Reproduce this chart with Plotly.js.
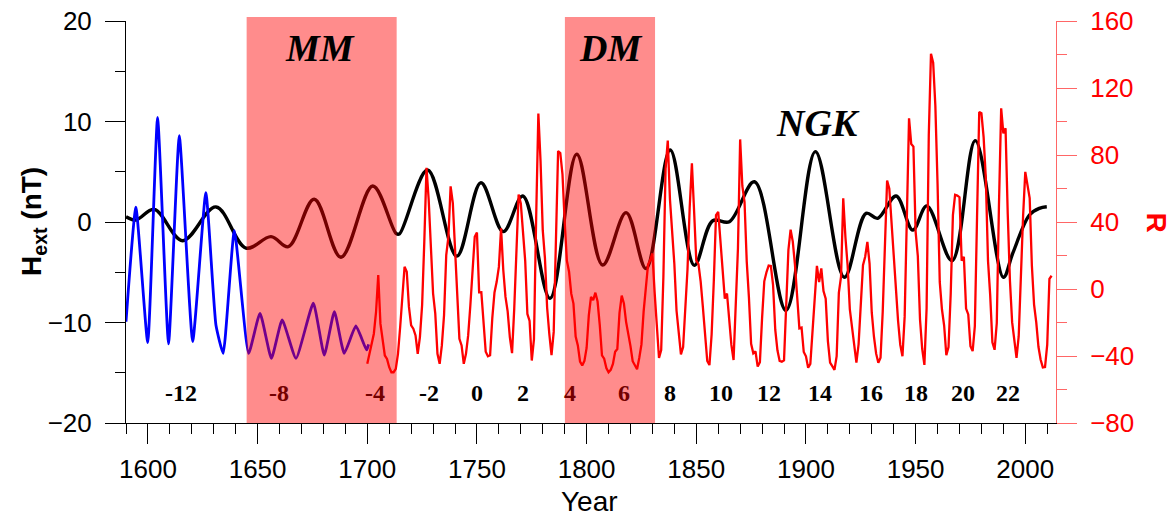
<!DOCTYPE html>
<html><head><meta charset="utf-8">
<script src="https://cdn.plot.ly/plotly-3.0.1.min.js"></script>
<style>html,body{margin:0;padding:0;background:#fff}#chart{width:1175px;height:518px}</style>
</head><body><div id="chart"></div>
<script>
// Black curve: H_ext (nT), left axis
const hextYears = [1590.0, 1594.5, 1602.9, 1615.8, 1631.0, 1644.7, 1656.1, 1664.0, 1675.8, 1688.0, 1702.5, 1713.1, 1714.6, 1727.5, 1740.8, 1751.8, 1762.0, 1770.9, 1783.3, 1795.5, 1807.3, 1818.0, 1827.1, 1838.1, 1849.1, 1857.5, 1865.1, 1876.5, 1890.9, 1904.3, 1917.5, 1927.4, 1932.7, 1941.1, 1948.7, 1955.1, 1966.6, 1977.2, 1990.0, 1994.3, 2001.9, 2006.4, 2009.8];
const hextValues = [0.53, 0.2, 1.26, -1.86, 1.5, -2.6, -1.46, -2.46, 2.26, -3.5, 3.58, -1.13, -1.2, 5.17, -3.4, 3.9, -0.96, 2.59, -7.6, 6.74, -4.28, 0.93, -4.64, 7.16, -4.31, 0.13, 0.03, 4.0, -8.8, 7.0, -5.5, 0.86, 0.37, 2.59, -0.8, 1.6, -3.85, 8.1, -5.5, -3.1, 0.7, 1.36, 1.52];

// Blue curve: reconstructed R before 1700, right axis
const blueYears = [1590.0, 1594.5, 1599.9, 1604.4, 1609.4, 1614.3, 1620.4, 1626.4, 1631.0, 1634.3, 1639.4, 1645.9, 1651.1, 1656.3, 1661.2, 1667.5, 1675.4, 1680.4, 1685.0, 1689.5, 1694.8, 1699.7, 1700.6];
const blueValues = [-19.5, 48.8, -32, 102.5, -32.8, 91.5, -31.4, 57.5, -21.5, -38.4, 34.8, -38.4, -14.5, -41.4, -18.5, -41.4, -8.5, -39.4, -13.5, -38.4, -22.1, -36.4, -33];

// Red curve: annual R (anomaly), 1700 onward, right axis
const redStartYear = 1700;
const redValues = [
 -44.7, -38.7, -33.7, -26.7, -13.7, 8.3, -20.7, -29.7, -39.7, -41.7,
 -46.7, -49.7, -49.7, -47.7, -38.7, -22.7, -2.7, 13.3, 10.3, -10.7,
 -21.7, -23.7, -27.7, -38.7, -28.7, -9.7, 28.3, 72.3, 53.3, 23.3,
 -2.7, -14.7, -38.7, -44.7, -33.7, -15.7, 20.3, 31.3, 61.3, 51.3,
 23.3, -9.7, -29.7, -33.7, -44.7, -38.7, -27.7, -9.7, 10.3, 31.2,
 33.7, -2.0, -1.9, -19.0, -37.5, -40.1, -39.5, -17.3, -2.1, 4.3,
 13.2, 36.2, 11.5, -4.6, -13.3, -28.8, -38.3, -11.9, 20.1, 56.4,
 51.1, 31.9, 16.8, -14.9, -19.1, -42.7, -29.9, 42.8, 104.7, 76.2,
 35.1, 18.4, -11.2, -26.9, -39.5, -25.6, 33.2, 82.3, 81.2, 68.4,
 40.2, 16.9, 10.3, -2.8, -8.7, -28.4, -33.7, -43.3, -45.6, -42.9,
 -35.2, -15.7, -4.7, -6.6, -2.2, -7.5, -21.6, -39.6, -41.6, -47.2,
 -49.7, -48.3, -44.7, -37.5, -35.8, -14.3, -3.9, -8.6, -19.6, -25.8,
 -34.1, -43.1, -45.7, -47.9, -41.2, -33.1, -13.4, -0.1, 14.5, 17.3,
 21.2, -1.9, -22.2, -41.2, -36.5, 7.2, 71.8, 88.6, 53.5, 36.0,
 14.9, -13.0, -25.5, -39.0, -34.7, -9.6, 11.8, 48.8, 75.0, 46.6,
 16.9, 14.8, 4.4, -10.7, -29.1, -43.0, -45.4, -27.0, 5.1, 44.1,
 46.1, 27.5, 9.4, -5.7, -2.7, -19.2, -33.4, -42.4, -12.1, 24.3,
 89.3, 61.5, 51.9, 16.5, -5.0, -32.7, -38.4, -37.3, -46.3, -43.7,
 -17.4, 4.6, 10.0, 14.0, 13.8, 2.5, -24.3, -36.6, -42.9, -43.4,
 -42.6, -14.1, 23.3, 35.4, 28.3, 14.3, -7.9, -23.5, -23.0, -37.6,
 -40.2, -47.0, -44.7, -25.3, -7.7, 13.8, 4.1, 12.3, -1.2, -5.8,
 -31.1, -44.0, -46.1, -48.3, -40.1, -2.3, 7.4, 54.2, 30.9, 13.9,
 -12.1, -23.6, -35.5, -43.9, -33.0, -5.4, 14.2, 19.3, 28.1, 15.2,
 -14.0, -28.5, -38.6, -44.0, -41.0, -13.6, 30.0, 64.7, 59.9, 39.1,
 18.1, -2.2, -19.1, -33.4, -40.1, -16.5, 42.9, 101.9, 86.6, 85.0,
 34.2, 19.7, -18.2, -35.8, -45.3, -11.7, 92.0, 140.5, 135.1, 109.3,
 62.6, 4.2, -12.1, -21.8, -39.5, -34.6, -2.7, 44.1, 56.2, 55.8,
 54.8, 16.9, 19.2, -11.7, -15.2, -34.2, -37.1, -22.2, 42.8, 105.7,
 104.9, 90.7, 66.2, 16.9, -3.8, -31.8, -36.3, -20.3, 50.5, 107.9,
 92.9, 96.0, 44.6, 4.9, -19.8, -32.2, -41.1, -28.2, 14.6, 43.6,
 69.9, 61.3, 54.3, 14.0, -9.3, -19.9, -34.5, -42.2, -46.8, -46.6,
 -33.2, 6.0, 7.9
];
const redYears = redValues.map((_, i) => redStartYear + i);

// Cycle numbers
const cycleLabels = ['-12', '-8', '-4', '-2', '0', '2', '4', '6', '8', '10', '12', '14', '16', '18', '20', '22'];
const cycleYears = [1615.3, 1659.7, 1703.5, 1728.1, 1750.0, 1771.0, 1792.4, 1817.1, 1838.1, 1861.3, 1883.1, 1906.4, 1929.6, 1950.2, 1971.6, 1992.2];
const cycleInShade = [false, true, true, false, false, false, true, true, false, false, false, false, false, false, false, false];
const cycleLevel = -17.05;

// Shaded minima
const shadeStart = [1645.0, 1790.1];
const shadeEnd = [1713.4, 1831.2];

// Period labels
const periodLabels = ['MM', 'DM', 'NGK'];
const periodYears = [1678.4, 1810.7, 1905.3];
const periodLevels = [17.36, 17.36, 9.9];

const serif = 'Liberation Serif, Times New Roman, serif';
const sans = 'Arial, Liberation Sans, sans-serif';

const traces = [
  {x: hextYears, y: hextValues, type: 'scatter', mode: 'lines', yaxis: 'y',
   line: {color: '#000000', width: 3.4, shape: 'spline', smoothing: 1}, hoverinfo: 'skip'},
  {x: blueYears, y: blueValues, type: 'scatter', mode: 'lines', yaxis: 'y2',
   line: {color: '#0000ff', width: 2.8, shape: 'spline', smoothing: 0.45}, hoverinfo: 'skip'},
  {x: redYears, y: redValues, type: 'scatter', mode: 'lines', yaxis: 'y2',
   line: {color: '#ff0000', width: 2.3}, hoverinfo: 'skip'}
];

const shapes = shadeStart.map((s, i) => ({
  type: 'rect', xref: 'x', yref: 'paper', x0: s, x1: shadeEnd[i], y0: 0, y1: 1.01,
  fillcolor: 'rgba(255,0,0,0.45)', line: {width: 0}, layer: 'above'
}));

const annotations = [];
cycleLabels.forEach((t, i) => annotations.push({
  x: cycleYears[i], y: cycleLevel, xref: 'x', yref: 'y', text: '<b>' + t + '</b>', showarrow: false,
  xanchor: 'center', yanchor: 'middle',
  font: {family: serif, size: 24, color: cycleInShade[i] ? '#730000' : '#000000'}
}));
periodLabels.forEach((t, i) => annotations.push({
  x: periodYears[i], y: periodLevels[i], xref: 'x', yref: 'y', text: '<b><i>' + t + '</i></b>', showarrow: false,
  xanchor: 'center', yanchor: 'middle', font: {family: serif, size: 38, color: '#000000'}
}));
annotations.push({x: -0.1, y: 0.5, xref: 'paper', yref: 'paper', text: '<b>H<sub>ext</sub> (nT)</b>',
  textangle: -90, showarrow: false, xanchor: 'center', yanchor: 'middle', font: {family: sans, size: 28, color: '#000'}});
annotations.push({x: 1.1091, y: 0.4975, xref: 'paper', yref: 'paper', text: '<b>R</b>',
  textangle: 90, showarrow: false, xanchor: 'center', yanchor: 'middle', font: {family: sans, size: 28, color: '#ff0000'}});
annotations.push({x: 0.4989, y: -0.196, xref: 'paper', yref: 'paper', text: 'Year',
  showarrow: false, xanchor: 'center', yanchor: 'middle', font: {family: sans, size: 28, color: '#000'}});

const layout = {
  width: 1175, height: 518,
  margin: {l: 126, r: 119, t: 21, b: 95},
  paper_bgcolor: '#ffffff', plot_bgcolor: 'rgba(0,0,0,0)',
  showlegend: false,
  font: {family: sans, size: 26, color: '#000'},
  xaxis: {range: [1590, 2014], tick0: 1600, dtick: 50, ticks: 'outside', ticklen: 20, tickwidth: 1, tickcolor: '#000',
    showline: true, linecolor: '#000', linewidth: 1, showgrid: false, zeroline: false, ticklabelstandoff: 3,
    tickfont: {family: sans, size: 26, color: '#000'},
    minor: {tick0: 1600, dtick: 10, ticks: 'outside', ticklen: 10, tickwidth: 1, tickcolor: '#000', showgrid: false}},
  yaxis: {range: [-20, 20], tick0: 0, dtick: 10, ticks: 'outside', ticklen: 20, tickwidth: 1, tickcolor: '#000',
    showline: true, linecolor: '#000', linewidth: 1, showgrid: false, zeroline: false, ticklabelstandoff: 8,
    tickfont: {family: sans, size: 26, color: '#000'},
    minor: {dtick: 5, ticks: 'outside', ticklen: 10, tickwidth: 1, tickcolor: '#000', showgrid: false}},
  yaxis2: {range: [-80, 160], tick0: 0, dtick: 40, overlaying: 'y', side: 'right', ticks: 'outside', ticklen: 20, tickwidth: 1,
    tickcolor: 'rgba(255,0,0,0.6)', showline: true, linecolor: 'rgba(255,0,0,0.6)', linewidth: 1, showgrid: false, zeroline: false,
    ticklabelstandoff: 8, tickfont: {family: sans, size: 26, color: '#ff0000'},
    minor: {dtick: 20, ticks: 'outside', ticklen: 10, tickwidth: 1, tickcolor: 'rgba(255,0,0,0.6)', showgrid: false}},
  shapes: shapes,
  annotations: annotations
};

Plotly.newPlot('chart', traces, layout, {displayModeBar: false, staticPlot: true});
</script>
</body></html>
